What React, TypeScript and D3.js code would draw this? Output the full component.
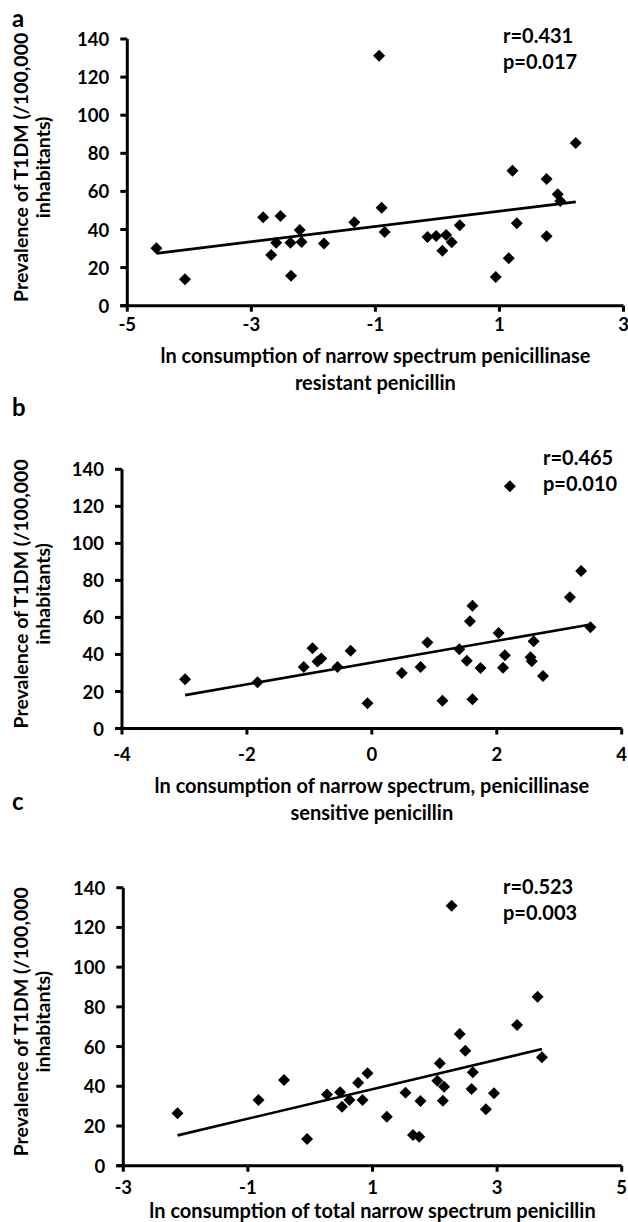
import React from "react";
import * as d3 from "d3";

// ---------- data ----------
const yTicks = [0, 20, 40, 60, 80, 100, 120, 140];
const yTitleLines = ["Prevalence of T1DM (/100,000", "inhabitants)"];

// Panel a: narrow spectrum penicillinase resistant penicillin
const aX = [-4.53, -4.07, -2.81, -2.53, -2.68, -2.6, -2.37, -2.36, -2.22, -2.19, -1.83, -1.34, -0.94, -0.9, -0.85, -0.16, -0.02, 0.14, 0.08, 0.23, 0.36, 0.94, 1.15, 1.21, 1.28, 1.76, 1.76, 1.94, 1.98, 2.23];
const aY = [30.1, 13.9, 46.4, 47.1, 26.6, 33.1, 33.1, 15.7, 39.7, 33.4, 32.7, 43.8, 131.2, 51.4, 38.7, 36.1, 36.6, 37.1, 28.9, 33.3, 42.2, 15.1, 24.9, 70.9, 43.3, 66.5, 36.4, 58.5, 55.0, 85.4];
const aFit = [45.6, 4.0]; // intercept, slope
const aXTicks = [-5, -3, -1, 1, 3];
const aXTitle = ["ln consumption of narrow spectrum penicillinase", "resistant penicillin"];
const aStats = ["r=0.431", "p=0.017"];

// Panel b: narrow spectrum, penicillinase sensitive penicillin
const bX = [-2.99, -1.83, -1.09, -0.95, -0.87, -0.81, -0.55, -0.34, -0.07, 0.48, 0.78, 0.89, 1.13, 1.4, 1.52, 1.57, 1.61, 1.61, 1.74, 2.03, 2.13, 2.1, 2.21, 2.54, 2.56, 2.59, 2.74, 3.17, 3.35, 3.5];
const bY = [26.6, 25.0, 33.2, 43.3, 36.2, 37.8, 33.2, 42.0, 13.6, 30.0, 33.2, 46.4, 15.0, 42.8, 36.6, 57.9, 66.3, 15.8, 32.7, 51.6, 39.5, 32.8, 130.8, 38.5, 36.3, 47.1, 28.4, 70.9, 85.1, 54.7];
const bFit = [35.6, 5.88];
const bXTicks = [-4, -2, 0, 2, 4];
const bXTitle = ["ln consumption of narrow spectrum, penicillinase", "sensitive penicillin"];
const bStats = ["r=0.465", "p=0.010"];

// Panel c: total narrow spectrum penicillin
const cX = [-2.13, -0.83, -0.42, -0.05, 0.27, 0.48, 0.51, 0.63, 0.77, 0.84, 0.92, 1.23, 1.53, 1.65, 1.75, 1.77, 2.08, 2.04, 2.15, 2.13, 2.27, 2.4, 2.49, 2.61, 2.59, 2.82, 2.95, 3.32, 3.65, 3.72];
const cY = [26.4, 33.1, 43.2, 13.4, 35.9, 37.0, 29.7, 33.1, 41.8, 33.1, 46.5, 24.7, 36.8, 15.5, 14.6, 32.6, 51.6, 42.8, 39.8, 32.7, 130.9, 66.3, 57.9, 47.0, 38.6, 28.4, 36.5, 70.8, 85.1, 54.6];
const cFit = [31.1, 7.43];
const cXTicks = [-3, -1, 1, 3, 5];
const cXTitle = ["ln consumption of total narrow spectrum penicillin"];
const cStats = ["r=0.523", "p=0.003"];

const FONT = "Lato, 'Open Sans', sans-serif";

type PanelProps = {
  letter: string;
  xs: number[];
  ys: number[];
  fit: number[];
  xTicks: number[];
  xTitle: string[];
  stats: string[];
  left: number;
  right: number;
  top: number;
  bottom: number;
  letterY: number;
  tickLabelY: number;
  titleY: number;
  statX: number;
  statY: number;
};

function Panel(p: PanelProps) {
  const x = d3.scaleLinear().domain([p.xTicks[0], p.xTicks[p.xTicks.length - 1]]).range([p.left, p.right]);
  const y = d3.scaleLinear().domain([0, 140]).range([p.bottom, p.top]);
  const x0 = x.range()[0];
  const y0 = y(0);
  const ext = d3.extent(p.xs) as [number, number];
  const line = d3
    .line<number>()
    .x((v) => x(v))
    .y((v) => y(p.fit[0] + p.fit[1] * v));
  const diamond = d3.symbol().type(d3.symbolSquare).size(72)();
  const midY = (p.top + p.bottom) / 2 - 5;
  const midX = (p.left + p.right) / 2;
  return (
    <g fontFamily={FONT} fontWeight="bold" fill="#000">
      <text x={12} y={p.letterY} fontSize={24}>
        {p.letter}
      </text>
      {/* y title */}
      {yTitleLines.map((t, i) => (
        <text
          key={i}
          transform={`translate(${28 + i * 22},${midY}) rotate(-90)`}
          textAnchor="middle"
          fontSize={19.5}
        >
          {t}
        </text>
      ))}
      {/* axes */}
      <line x1={x0} x2={x0} y1={y(140)} y2={y0} stroke="#000" strokeWidth={3} />
      <line x1={x0 - 7} x2={x.range()[1]} y1={y0} y2={y0} stroke="#000" strokeWidth={3} />
      {yTicks.map((t) => (
        <g key={t}>
          <line x1={x0 - 7} x2={x0} y1={y(t)} y2={y(t)} stroke="#000" strokeWidth={3} />
          <text x={x0 - 18} y={y(t)} dy="0.38em" textAnchor="end" fontSize={18.5}>
            {t}
          </text>
        </g>
      ))}
      {p.xTicks.map((t) => (
        <g key={t}>
          <line x1={x(t)} x2={x(t)} y1={y0} y2={y0 + 6} stroke="#000" strokeWidth={3} />
          <text x={x(t)} y={p.tickLabelY} textAnchor="middle" fontSize={18.5}>
            {t}
          </text>
        </g>
      ))}
      {p.xTitle.map((t, i) => (
        <text key={i} x={midX} y={p.titleY + i * 27} textAnchor="middle" fontSize={20}>
          {t}
        </text>
      ))}
      {/* regression line */}
      <path d={line(ext) || ""} stroke="#000" strokeWidth={2.6} fill="none" />
      {/* points */}
      {p.xs.map((v, i) => (
        <path key={i} d={diamond || ""} transform={`translate(${x(v)},${y(p.ys[i])}) rotate(45)`} fill="#000" />
      ))}
      {p.stats.map((s, i) => (
        <text key={i} x={p.statX} y={p.statY + i * 26} fontSize={20}>
          {s}
        </text>
      ))}
    </g>
  );
}

export default function App() {
  return (
    <svg width={628} height={1222} style={{ position: "absolute", left: 0, top: 0, background: "#fff" }}>
      <rect width={628} height={1222} fill="#fff" />
      <Panel
        letter="a"
        xs={aX}
        ys={aY}
        fit={aFit}
        xTicks={aXTicks}
        xTitle={aXTitle}
        stats={aStats}
        left={127.3}
        right={623.5}
        top={39}
        bottom={305.7}
        letterY={27}
        tickLabelY={331}
        titleY={363}
        statX={503}
        statY={43}
      />
      <Panel
        letter="b"
        xs={bX}
        ys={bY}
        fit={bFit}
        xTicks={bXTicks}
        xTitle={bXTitle}
        stats={bStats}
        left={122}
        right={621.7}
        top={469.3}
        bottom={728.5}
        letterY={416}
        tickLabelY={761}
        titleY={793}
        statX={543}
        statY={465}
      />
      <Panel
        letter="c"
        xs={cX}
        ys={cY}
        fit={cFit}
        xTicks={cXTicks}
        xTitle={cXTitle}
        stats={cStats}
        left={123.3}
        right={621.7}
        top={887.7}
        bottom={1165.7}
        letterY={810}
        tickLabelY={1193.5}
        titleY={1217.5}
        statX={503}
        statY={894}
      />
    </svg>
  );
}
